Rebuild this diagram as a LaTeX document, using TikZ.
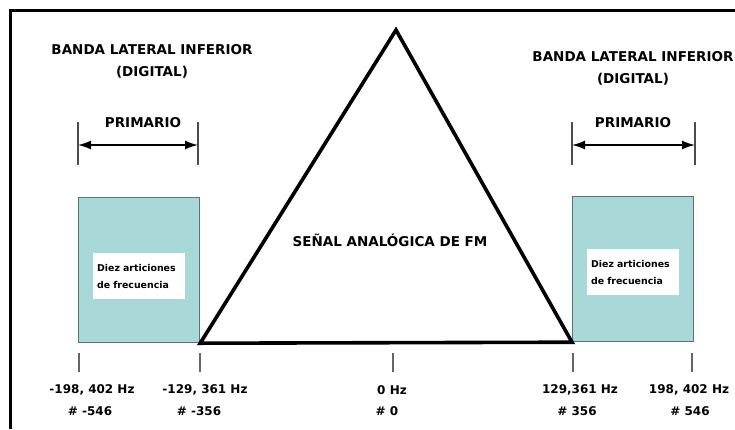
\documentclass[tikz,border=0pt]{standalone}
\usepackage{fontspec}
\setmainfont{DejaVu Sans}
\usetikzlibrary{positioning,arrows.meta}

\definecolor{bandteal}{RGB}{169,216,217}
\definecolor{bordeteal}{RGB}{90,115,115}

\tikzset{
  banda/.style={draw=bordeteal, line width=1.2pt, fill=bandteal, minimum width=121pt, minimum height=145pt, inner sep=0pt},
  etiq/.style={fill=white, font=\bfseries\fontsize{9.4}{17}\selectfont, align=left, text width=84pt, inner sep=4pt, minimum height=46pt},
  titulo/.style={font=\bfseries\fontsize{13.5}{22}\selectfont, align=center},
  freq/.style={font=\bfseries\fontsize{12}{14}\selectfont},
  marca/.style={black!60, line width=1.6pt},
  cota/.style={black!70, line width=1.5pt},
  flecha/.style={{Latex[length=13pt,width=9pt]}-{Latex[length=13pt,width=9pt]}, line width=1.6pt},
}

\begin{document}
\begin{tikzpicture}[x=1pt, y=-1pt]
    \useasboundingbox (0,0) rectangle (735,429);

    % Frame
    \draw[line width=3pt] (10,429) -- (10,10) -- (735,10);

    % Side bands
    \node[banda, anchor=north west] (bandaizq) at (78,197) {};
    \node[banda, anchor=north west] (bandader) at (572,196) {};
    \node[etiq] (etiqizq) at ([yshift=-6pt]bandaizq.center) {Diez articiones\\de frecuencia};
    \node[etiq] (etiqder) at ([yshift=-3pt]bandader.center) {Diez articiones\\de frecuencia};

    % FM triangle
    \coordinate (apex) at (396,30);
    \draw[line width=3.6pt, line join=miter] (bandaizq.south east) -- (apex) -- (bandader.south west) -- cycle;
    \node[titulo] (fm) at (390,240) {SEÑAL ANALÓGICA DE FM};

    % Titles
    \node[titulo] (tituloizq) at (152,61) {BANDA LATERAL INFERIOR\\(DIGITAL)};
    \node[titulo] (tituloder) at (633,68) {BANDA LATERAL INFERIOR\\(DIGITAL)};

    % Primary widths
    \node[titulo] (primizq) at (143,123) {PRIMARIO};
    \node[titulo] (primder) at (633,123) {PRIMARIO};
    \coordinate (c1) at (78,145);
    \coordinate (c2) at (198,145);
    \coordinate (c3) at (572,145);
    \coordinate (c4) at (695,145);
    \foreach \c in {c1,c2,c3,c4}
        \draw[cota] ([yshift=23pt]\c) -- ([yshift=-20pt]\c);
    \draw[flecha] (c1) -- (c2);
    \draw[flecha] (c3) -- (c4);

    % Frequency marks
    \foreach \x/\lx/\hz/\nx/\num/\name in {79/92/{-198, 402 Hz}/90/{\# -546}/a,
                                          200/205/{-129, 361 Hz}/199/{\# -356}/b,
                                          393/392/{0 Hz}/387/{\# 0}/c,
                                          573/580/{129,361 Hz}/577/{\# 356}/d,
                                          692/689/{198, 402 Hz}/690/{\# 546}/e} {
        \draw[marca] (\x,353) -- (\x,372);
        \node[freq] (hz\name) at (\lx,390) {\hz};
        \node[freq] (num\name) at (\nx,411) {\num};
    }

\end{tikzpicture}
\end{document}
